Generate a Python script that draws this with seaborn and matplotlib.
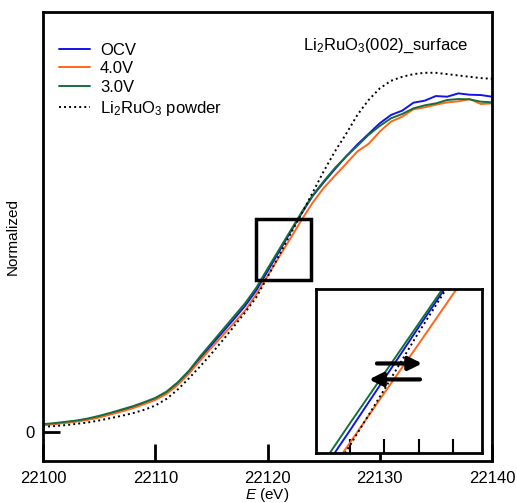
import pandas as pd
import seaborn as sns
import matplotlib.pyplot as plt
from matplotlib.patches import Rectangle

energy = list(range(22100, 22141))

ocv = [0.022, 0.025, 0.029, 0.033, 0.039, 0.046, 0.055, 0.065, 0.075, 0.087,
       0.100, 0.118, 0.145, 0.180, 0.222, 0.262, 0.301, 0.340, 0.380, 0.427,
       0.484, 0.542, 0.600, 0.657, 0.710, 0.752, 0.792, 0.830, 0.866, 0.898,
       0.930, 0.955, 0.968, 0.992, 0.998, 1.012, 1.010, 1.020, 1.016, 1.015,
       1.010]
v40 = [0.021, 0.024, 0.028, 0.032, 0.037, 0.044, 0.053, 0.062, 0.072, 0.084,
       0.097, 0.115, 0.142, 0.176, 0.216, 0.254, 0.291, 0.328, 0.366, 0.415,
       0.470, 0.526, 0.581, 0.637, 0.690, 0.735, 0.772, 0.808, 0.845, 0.868,
       0.905, 0.935, 0.950, 0.972, 0.978, 0.986, 0.993, 0.996, 1.003, 0.988,
       0.990]
v30 = [0.024, 0.027, 0.031, 0.035, 0.041, 0.049, 0.058, 0.068, 0.078, 0.090,
       0.103, 0.122, 0.150, 0.185, 0.228, 0.268, 0.308, 0.348, 0.388, 0.435,
       0.492, 0.548, 0.604, 0.660, 0.712, 0.755, 0.795, 0.830, 0.862, 0.895,
       0.922, 0.945, 0.958, 0.975, 0.984, 0.990, 1.000, 1.003, 1.002, 0.995,
       0.993]
powder = [0.016, 0.018, 0.021, 0.025, 0.029, 0.035, 0.042, 0.049, 0.057, 0.067,
          0.080, 0.100, 0.128, 0.162, 0.198, 0.236, 0.276, 0.318, 0.360, 0.406,
          0.467, 0.530, 0.594, 0.655, 0.720, 0.785, 0.845, 0.898, 0.955, 1.000,
          1.035, 1.058, 1.070, 1.078, 1.082, 1.082, 1.078, 1.074, 1.070, 1.066,
          1.064]

xticks = [22100, 22110, 22120, 22130, 22140]
inset_ticks = [22120, 22121, 22122, 22123]
zoom_x = (22119, 22123.85)
zoom_y = (0.458, 0.643)

sns.set_style("white", {"axes.edgecolor": "black", "xtick.bottom": True,
                        "ytick.left": True, "text.color": "black",
                        "xtick.color": "black", "ytick.color": "black",
                        "axes.labelcolor": "black"})
plt.rcParams['font.family'] = ['Liberation Sans', 'DejaVu Sans']
plt.rcParams['mathtext.fontset'] = 'custom'
plt.rcParams['mathtext.rm'] = 'Liberation Sans'
plt.rcParams['mathtext.it'] = 'Liberation Sans:italic'

series = [
    ("OCV", ocv, "#1414e6", "-"),
    ("4.0V", v40, "#ff6619", "-"),
    ("3.0V", v30, "#13703a", "-"),
    ("Li$_2$RuO$_3$ powder", powder, "black", (0, (1, 1.6))),
]

fig = plt.figure(figsize=(5.17, 5.03), dpi=100)
ax = fig.add_axes([0.0832, 0.0835, 0.8685, 0.8926])
ax_in = fig.add_axes([0.6112, 0.0994, 0.3211, 0.326])

for a, leg in [(ax, True), (ax_in, False)]:
    for name, vals, col, ls in series:
        df = pd.DataFrame({"E": energy, "v": vals})
        sns.lineplot(data=df, x="E", y="v", ax=a, color=col, linestyle=ls,
                     linewidth=1.4, label=name if leg else None, legend=False)

ax.set_xlim(22100, 22140)
ax.set_ylim(-0.087, 1.265)
ax.set_xticks(xticks)
ax.set_yticks([0])
ax.tick_params(direction="in", length=12, width=2, labelsize=12)
ax.tick_params(axis="x", pad=7)
ax.tick_params(axis="y", pad=6)
ax.set_xlabel("$E$ (eV)", fontsize=11, labelpad=0)
ax.set_ylabel("Normalized", fontsize=11, labelpad=4)
for s in ax.spines.values():
    s.set_linewidth(2)

ax.legend(loc="upper left", bbox_to_anchor=(0.01, 0.958), frameon=False,
          fontsize=12, handlelength=1.85, handletextpad=0.6, labelspacing=0.22,
          borderpad=0.2)
ax.text(0.763, 0.925, "Li$_2$RuO$_3$(002)_surface", transform=ax.transAxes,
        ha="center", va="center", fontsize=12)

ax.add_patch(Rectangle((zoom_x[0], zoom_y[0]), zoom_x[1] - zoom_x[0],
                       zoom_y[1] - zoom_y[0], fill=False, lw=2.5, ec="black",
                       zorder=5))

ax_in.set_xlim(*zoom_x)
ax_in.set_ylim(*zoom_y)
ax_in.set_xticks(inset_ticks)
ax_in.set_yticks([])
ax_in.tick_params(direction="in", length=10, width=1.5, labelbottom=False)
ax_in.set_xlabel("")
ax_in.set_ylabel("")
for s in ax_in.spines.values():
    s.set_linewidth(2)

ax_in.annotate("", xy=(22122.1, 0.559), xytext=(22120.78, 0.559),
               arrowprops=dict(arrowstyle="-|>", lw=3, color="black",
                               mutation_scale=20, shrinkA=0, shrinkB=0))
ax_in.annotate("", xy=(22120.55, 0.541), xytext=(22122.04, 0.541),
               arrowprops=dict(arrowstyle="-|>", lw=3, color="black",
                               mutation_scale=20, shrinkA=0, shrinkB=0))

fig.savefig("out.png", dpi=100)
